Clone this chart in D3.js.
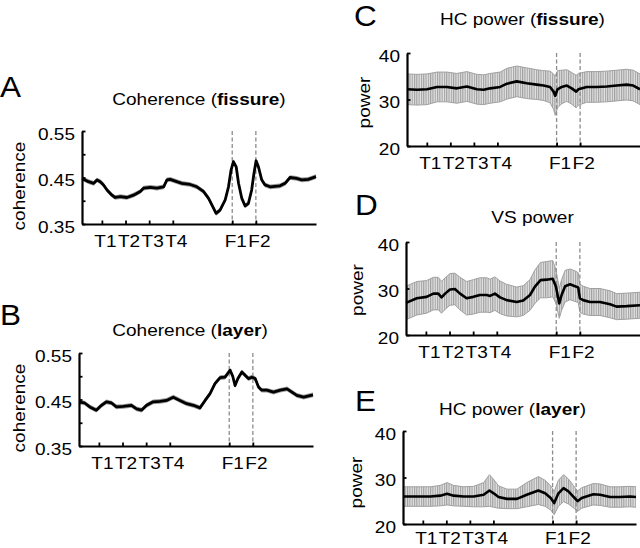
<!DOCTYPE html>
<html><head><meta charset="utf-8">
<script src="https://cdn.jsdelivr.net/npm/d3@7"></script>
<style>
html,body{margin:0;padding:0;background:#fff}
svg{display:block}
text{font-family:"Liberation Sans",Arial,Helvetica,sans-serif;fill:#000}
</style>
</head><body>
<svg id="chart" width="640" height="548"></svg>
<script>
// ---------- data ----------
const xTickLabels = ["T1","T2","T3","T4","F1","F2"];
const xTickPos    = [8.5, 18.6, 28.7, 38.8, 64.2, 74.3];
const dashedAt    = [64.2, 74.3];

const cohTicks = [0.35, 0.4, 0.45, 0.5, 0.55];
const cohTickLabels = ["0.35", "", "0.45", "", "0.55"];
const powTicks = [20, 30, 40];
const powTickLabels = ["20", "30", "40"];

// A: coherence (fissure)
const cohFissX = [0,2.8,5,6.4,7.8,9.2,10.7,12.8,14.2,16.4,19.2,22,24.9,26.3,29.2,32,34.9,36.3,37.7,40.5,42.7,46.2,49.1,51.9,54.1,56.2,57.3,59,61.2,62.6,63.7,64.7,65.9,66.9,68.3,69.7,71.1,72.5,73.5,74.4,75.4,76.8,78.2,80.4,84.6,86.8,88.9,91.7,93.9,96.7,100];
const cohFiss  = [0.448,0.441,0.4375,0.4446,0.441,0.434,0.423,0.412,0.407,0.409,0.407,0.412,0.420,0.427,0.429,0.427,0.430,0.445,0.446,0.441,0.4375,0.435,0.430,0.420,0.405,0.384,0.373,0.380,0.402,0.430,0.466,0.484,0.473,0.4375,0.405,0.389,0.394,0.423,0.459,0.486,0.473,0.445,0.434,0.430,0.432,0.4375,0.450,0.448,0.445,0.446,0.452];

// B: coherence (layer)
const cohLayerX = [0,2.4,4.6,7.4,9.6,11.7,13.9,16,18.9,22.4,24.6,26.7,28.9,31.7,34.6,37.4,40.3,43.1,46,48.9,51.7,53.9,56,58.1,60.3,62.4,64.6,65.7,66.7,67.9,69.6,71,72.4,73.9,75.3,76.7,78.1,80.3,83.1,86,88.9,91,93.1,96,100];
const cohLayer  = [0.4446,0.4425,0.434,0.427,0.4375,0.445,0.4425,0.434,0.435,0.4375,0.430,0.427,0.4375,0.445,0.446,0.448,0.455,0.448,0.441,0.4375,0.432,0.448,0.4625,0.484,0.497,0.498,0.513,0.500,0.480,0.495,0.509,0.502,0.495,0.498,0.495,0.477,0.470,0.470,0.466,0.470,0.473,0.466,0.459,0.455,0.460];
const cohErr = 0.005;

// C: HC power (fissure)
const hcFissX = [0,4.3,8.6,12.9,17.1,21.4,25.7,30,32.9,35.7,40,42.9,47.1,51.4,55.7,58.6,61.4,62.9,63.6,64.6,66.4,68.6,70.7,72.6,73.6,77.1,81.4,85.7,90,94.3,97.1,100];
const hcFiss    = [32.2,32.1,32.2,32.7,32.7,32.4,32.8,32.2,32.1,32.4,32.7,33.4,33.9,33.5,33.2,33.0,32.7,31.7,30.8,32.2,32.7,33.0,32.4,31.7,32.2,32.7,32.7,32.8,33.0,33.2,33.0,32.2];
const hcFissErr = [3.3,3.3,3.3,3.2,3.2,3.2,3.2,3.2,3.2,3.2,3.2,3.3,3.3,3.3,3.2,3.2,3.4,3.8,4.2,4.0,3.6,3.4,3.4,3.5,3.4,3.3,3.3,3.3,3.3,3.3,3.3,3.3];

// D: VS power
const vsX = [0,4.6,8.8,11.7,13.8,15.2,16.7,18.8,20.9,23.1,25.9,28.8,31.6,34.5,35.9,38,40.2,43,47.3,50.1,53,55.1,57.5,60.1,62.7,64.1,65.5,66.5,68,70.1,72.2,73.6,74.3,75.7,78.6,82.9,87.2,90,94.3,100];
const vs    = [26.9,27.9,28.2,28.9,28.9,28.1,28.9,29.8,29.9,28.9,27.9,28.2,28.6,28.6,28.4,28.9,28.1,27.5,27.1,27.4,28.6,30.4,31.8,31.9,32.1,30.4,26.8,28.6,30.5,30.9,30.5,30.2,27.9,27.5,27.1,27.1,26.6,26.1,26.2,26.4];
const vsErr = [3.6,3.6,3.5,3.5,3.5,3.4,3.4,3.4,3.4,3.5,3.6,3.7,3.7,3.7,3.6,3.6,3.5,3.4,3.2,3.2,3.3,3.6,3.8,3.9,3.9,3.6,3.2,3.3,3.4,3.3,3.3,3.2,3.0,3.0,2.9,2.9,2.9,2.8,2.8,2.8];

// E: HC power (layer)
const hcLayerX = [0,6,11.7,16,18.9,21.7,26,30.3,34.6,37.1,38.9,41,44.6,48.9,53.1,58.1,61,63.4,64.9,66.7,68.9,71,73.1,74.9,76.7,81.7,84.6,88.9,93.1,97.4,100];
const hcLayer    = [25.9,25.9,25.9,26.1,26.5,26.1,25.9,25.9,26.3,27.2,26.6,25.8,25.4,25.4,26.3,27.2,26.6,25.6,24.5,26.6,27.7,27.0,25.9,24.9,25.6,26.4,26.3,25.8,25.8,25.9,25.8];
const hcLayerErr = [2.1,2.1,2.1,2.2,2.4,2.2,2.1,2.2,2.6,3.4,3.0,2.4,2.1,2.1,2.6,3.0,2.8,2.6,2.5,2.8,2.9,2.7,2.4,2.2,2.2,2.3,2.3,2.2,2.2,2.2,2.2];

// ---------- drawing ----------
const svg = d3.select("#chart");
const FS = 17, SX = 1.12;

const defs = svg.append("defs");
const pat = defs.append("pattern").attr("id","hatch").attr("patternUnits","userSpaceOnUse")
  .attr("width",2.3).attr("height",4);
pat.append("rect").attr("width",2.3).attr("height",4).attr("fill","#e2e2e2");
pat.append("rect").attr("x",0).attr("width",1.1).attr("height",4).attr("fill","#a0a0a0");

function addText(parent, parts, x, y, o) {
  o = o || {};
  const t = parent.append("text")
    .attr("transform", `translate(${x},${y})` + (o.rotate ? ` rotate(${o.rotate})` : "") + ` scale(${o.sx || SX},1)`)
    .attr("text-anchor", o.anchor || "start")
    .style("font-size", (o.size || FS) + "px");
  (Array.isArray(parts) ? parts : [[parts, false]]).forEach(p => {
    t.append("tspan").text(p[0]).style("font-weight", p[1] ? "bold" : "normal");
  });
  return t;
}

function panel(c) {
  const g = svg.append("g");
  const x = d3.scaleLinear().domain([0, 100]).range([c.x0, c.x1]);
  const y = d3.scaleLinear().domain(c.yDomain).range([c.yBot, c.yTop]);
  const pts = c.xs.map((v, i) => ({x: v, v: c.vals[i], e: Array.isArray(c.errs) ? c.errs[i] : c.errs}));

  // error band
  const area = d3.area().x(d => x(d.x)).y0(d => y(d.v - d.e)).y1(d => y(d.v + d.e));
  if (c.hatch) {
    g.append("path").datum(pts).attr("d", area).attr("fill", "url(#hatch)");
    const up = d3.line().x(d => x(d.x)).y(d => y(d.v + d.e));
    const dn = d3.line().x(d => x(d.x)).y(d => y(d.v - d.e));
    g.append("path").datum(pts).attr("d", up).attr("fill","none").attr("stroke","#a0a0a0").attr("stroke-width",1);
    g.append("path").datum(pts).attr("d", dn).attr("fill","none").attr("stroke","#a0a0a0").attr("stroke-width",1);
  } else {
    g.append("path").datum(pts).attr("d", area).attr("fill", "#9a9a9a");
  }

  // dashed markers
  g.selectAll(".dash").data(dashedAt).join("line")
    .attr("x1", d => x(d)).attr("x2", d => x(d))
    .attr("y1", c.yTop).attr("y2", c.yBot)
    .attr("stroke", "#8c8c8c").attr("stroke-width", 1.3).attr("stroke-dasharray", "4,2.5");

  // mean line
  const line = d3.line().x(d => x(d.x)).y(d => y(d.v));
  g.append("path").datum(pts).attr("d", line).attr("fill","none")
    .attr("stroke","#000").attr("stroke-width", c.hatch ? 2.6 : 2.8).attr("stroke-linejoin","round");

  // x axis
  const xa = g.append("g").attr("transform", `translate(0,${c.yBot})`)
    .call(d3.axisBottom(x).tickValues(xTickPos).tickFormat((d, i) => xTickLabels[i]).tickSize(-3.5).tickSizeOuter(0));
  xa.select(".domain").attr("stroke-width", 2.2).attr("stroke","#000");
  xa.selectAll(".tick line").attr("stroke-width", 1.8).attr("stroke","#000");
  xa.selectAll(".tick text").attr("x", null).attr("y", null).attr("dy", null)
    .attr("transform", `translate(3,${c.xLabOff || 23}) scale(${SX},1)`).attr("text-anchor","middle")
    .style("font-size", FS + "px").attr("fill","#000");

  // y axis
  const ya = g.append("g").attr("transform", `translate(${c.x0},0)`)
    .call(d3.axisLeft(y).tickValues(c.yTicks).tickFormat((d, i) => c.yTickLabels[i]).tickSize(-3.5).tickSizeOuter(0));
  ya.select(".domain").attr("stroke-width", 2.2).attr("stroke","#000");
  ya.selectAll(".tick line").attr("stroke-width", 1.8).attr("stroke","#000");
  ya.selectAll(".tick text").attr("x", null).attr("y", null).attr("dy", null)
    .attr("transform", `translate(-7,8) scale(${SX},1)`).attr("text-anchor","end")
    .style("font-size", FS + "px").attr("fill","#000");
  svg.selectAll("g[font-family]").attr("font-family", null).attr("font-size", null);

  // labels
  addText(svg, c.title, c.titleX, c.titleY, {anchor: "middle"});
  addText(svg, c.ylabel, c.ylabelX, c.ylabelY, {anchor: "middle", rotate: -90});
  addText(svg, c.letter, c.letterX, c.letterY, {size: 30, sx: 1.05});
}

panel({letter:"A", letterX:0, letterY:97,
  title:[["Coherence (",false],["fissure",true],[")",false]], titleX:199, titleY:105,
  ylabel:"coherence", ylabelX:25, ylabelY:186,
  x0:82, x1:316, yTop:131, yBot:224, yDomain:[0.35,0.55], yTicks:cohTicks, yTickLabels:cohTickLabels,
  xs:cohFissX, vals:cohFiss, errs:cohErr, hatch:false});

panel({letter:"B", letterX:0, letterY:325,
  title:[["Coherence (",false],["layer",true],[")",false]], titleX:190, titleY:336,
  ylabel:"coherence", ylabelX:25, ylabelY:408,
  x0:79, x1:313, yTop:353, yBot:446, yDomain:[0.35,0.55], yTicks:cohTicks, yTickLabels:cohTickLabels,
  xs:cohLayerX, vals:cohLayer, errs:cohErr, hatch:false});

panel({letter:"C", letterX:354, letterY:26,
  title:[["HC power (",false],["fissure",true],[")",false]], titleX:522.5, titleY:25,
  ylabel:"power", ylabelX:369.5, ylabelY:102.5,
  x0:407, x1:640, yTop:53, yBot:146, yDomain:[20,40], yTicks:powTicks, yTickLabels:powTickLabels,
  xs:hcFissX, vals:hcFiss, errs:hcFissErr, hatch:true});

panel({letter:"D", letterX:355, letterY:215,
  title:[["VS power",false]], titleX:532.5, titleY:223,
  ylabel:"power", ylabelX:363, ylabelY:290,
  x0:406, x1:640, yTop:242, yBot:335, yDomain:[20,40], yTicks:powTicks, yTickLabels:powTickLabels,
  xs:vsX, vals:vs, errs:vsErr, hatch:true});

panel({letter:"E", letterX:355, letterY:411,
  title:[["HC power (",false],["layer",true],[")",false]], titleX:512.5, titleY:415,
  ylabel:"power", ylabelX:361.5, ylabelY:482.5, xLabOff:20,
  x0:403, x1:636, yTop:431, yBot:524, yDomain:[20,40], yTicks:powTicks, yTickLabels:powTickLabels,
  xs:hcLayerX, vals:hcLayer, errs:hcLayerErr, hatch:true});
</script>
</body></html>
